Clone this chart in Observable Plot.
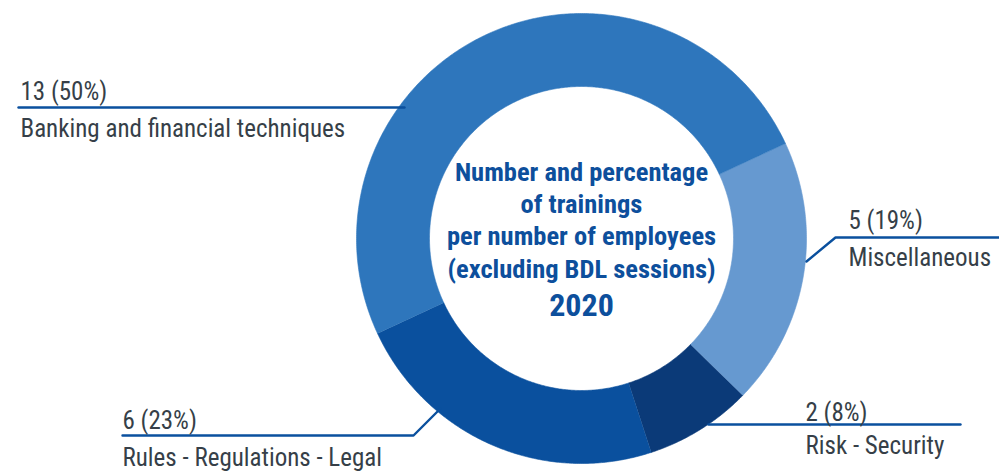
<!DOCTYPE html>
<html><head><meta charset="utf-8">
<script src="https://cdn.jsdelivr.net/npm/d3@7"></script>
<script src="https://cdn.jsdelivr.net/npm/@observablehq/plot@0.6"></script>
<style>
body{margin:0;background:#fff}
#chart{width:999px;height:471px;overflow:hidden}
</style>
</head><body><div id="chart"></div>
<script>
// ---- data ----
const categories = ["Miscellaneous", "Risk - Security", "Rules - Regulations - Legal", "Banking and financial techniques"];
const counts = [5, 2, 6, 13];
const colors = ["#6699d0", "#0b3a78", "#0a509e", "#2e76bc"];
const centerTitle = ["Number and percentage", "of trainings", "per number of employees", "(excluding BDL sessions)"];
const centerYear = "2020";

// ---- layout ----
const W = 999, H = 471;
const cx = 581, cy = 238, R = 225, r = 152, startDeg = 65;
const labelX = [848, 805, 122, 20];
const valueBaseline = [228, 420, 428, 99];
const nameBaseline = [265, 453, 465, 136];
const leaderPaths = [
  [[806, 261], [835, 237], [999, 237]],
  [[708, 424], [960, 424]],
  [[122, 435], [413, 435], [440, 408]],
  [[18, 107], [404, 107]]
];
const textColor = "#363f48";
const lineColor = "#0a509e";
const titleColor = "#0d4f9c";
const fontFam = "'Liberation Sans Narrow', 'Roboto Condensed', Roboto, sans-serif";

const total = d3.sum(counts);
// slice polygons
const slicePts = [];
let acc = 0;
categories.forEach((cat, i) => {
  const a0 = (startDeg + acc / total * 360) * Math.PI / 180;
  acc += counts[i];
  const a1 = (startDeg + acc / total * 360) * Math.PI / 180;
  const n = Math.max(4, Math.ceil((a1 - a0) / (Math.PI / 360)));
  for (let k = 0; k <= n; k++) {
    const a = a0 + (a1 - a0) * k / n;
    slicePts.push({cat, x: cx + R * Math.sin(a), y: cy - R * Math.cos(a)});
  }
  for (let k = n; k >= 0; k--) {
    const a = a0 + (a1 - a0) * k / n;
    slicePts.push({cat, x: cx + r * Math.sin(a), y: cy - r * Math.cos(a)});
  }
});

const labels = categories.map((cat, i) => ({
  cat,
  value: `${counts[i]} (${Math.round(counts[i] / total * 100)}%)`,
  x: labelX[i], yv: valueBaseline[i], yn: nameBaseline[i]
}));
const leaderPts = leaderPaths.flatMap((p, i) => p.map(([x, y]) => ({cat: categories[i], x, y})));

const chart = Plot.plot({
  width: W, height: H,
  margin: 0,
  style: {background: "#fff", overflow: "visible"},
  x: {domain: [0, W], axis: null},
  y: {domain: [H, 0], axis: null},
  color: {domain: categories, range: colors},
  marks: [
    Plot.line(slicePts, {x: "x", y: "y", z: "cat", fill: "cat", stroke: "cat", strokeWidth: 0.6, curve: "linear"}),
    Plot.line(leaderPts, {x: "x", y: "y", z: "cat", stroke: lineColor, strokeWidth: 2.4}),
    Plot.text(labels, {x: "x", y: "yv", text: "value", textAnchor: "start", lineAnchor: "bottom", fontSize: 25, fill: textColor, fontFamily: fontFam}),
    Plot.text(labels, {x: "x", y: "yn", text: "cat", textAnchor: "start", lineAnchor: "bottom", fontSize: 25, fill: textColor, fontFamily: fontFam}),
    Plot.text([centerTitle.join("\n")], {x: cx, y: 277, text: d => d, textAnchor: "middle", lineAnchor: "bottom", lineHeight: 1.21, fontSize: 26.5, fontWeight: "bold", fill: titleColor, fontFamily: fontFam}),
    Plot.text([centerYear], {x: cx, y: 315, text: d => d, textAnchor: "middle", lineAnchor: "bottom", fontSize: 32, fontWeight: "bold", fill: titleColor, fontFamily: fontFam})
  ]
});
document.getElementById("chart").appendChild(chart);
</script>
</body></html>
